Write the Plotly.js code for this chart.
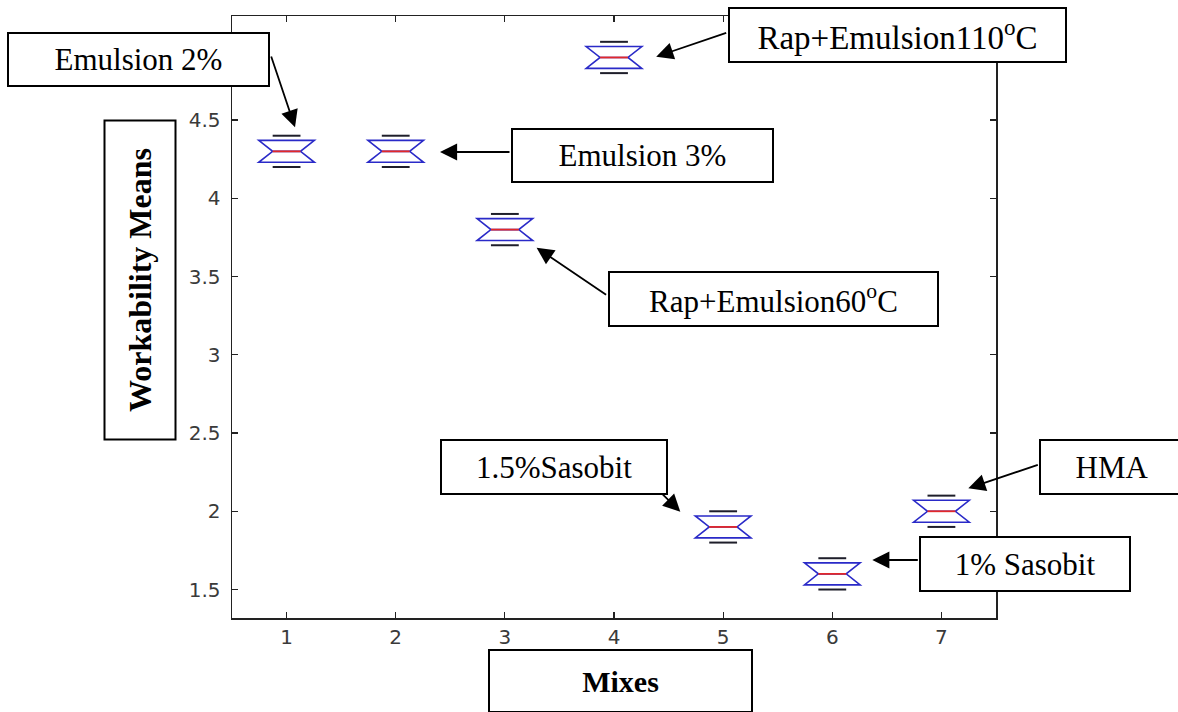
<!DOCTYPE html>
<html>
<head>
<meta charset="utf-8">
<script src="https://cdn.plot.ly/plotly-3.0.1.min.js"></script>
<style>
  html, body { margin: 0; padding: 0; background: #ffffff; }
  #chart { width: 1178px; height: 712px; }
</style>
</head>
<body>
<div id="chart"></div>
<script>
// ---- data ----
const mixes = [1, 2, 3, 4, 5, 6, 7];
const xTickLabels = ['1', '2', '3', '4', '5', '6', '7'];
const yTickValues = [1.5, 2, 2.5, 3, 3.5, 4, 4.5];
const yTickLabels = ['1.5', '2', '2.5', '3', '3.5', '4', '4.5'];
const medians    = [4.3, 4.3, 3.8, 4.9, 1.9, 1.6, 2.0];
const q1Values   = [4.23, 4.23, 3.73, 4.83, 1.83, 1.53, 1.93];
const q3Values   = [4.37, 4.37, 3.87, 4.97, 1.97, 1.67, 2.07];
const notchSpans = [0.07, 0.07, 0.07, 0.07, 0.07, 0.07, 0.07];
const upperCaps  = [4.4, 4.4, 3.9, 5.0, 2.0, 1.7, 2.1];
const lowerCaps  = [4.2, 4.2, 3.7, 4.8, 1.8, 1.5, 1.9];
const mixLabels  = ['Emulsion 2%', 'Emulsion 3%', 'Rap+Emulsion60<sup>o</sup>C',
                    'Rap+Emulsion110<sup>o</sup>C', '1.5%Sasobit', '1% Sasobit', 'HMA'];
const xTitle = 'Mixes';
const yTitle = 'Workability Means';

// ---- styling ----
const BLUE = '#2a2ac8';
const RED = '#e2282a';
const CAP = '#1e1e2a';
const AXIS = '#222222';
const BOX_W = 0.51;
const NOTCH_W = 0.25;
const MED_HALF = BOX_W / 2 * (1 - 2 * NOTCH_W);
const SERIF = 'Liberation Serif, Times New Roman, serif';

// plot area in pixels
const L = 232, R = 996, T = 16, B = 618;
const W = R - L, H = B - T;
const px = x => (x - L) / W;
const py = y => (B - y) / H;

function segs(vals) {
  const xs = [], ys = [];
  mixes.forEach((m, i) => { xs.push(m - MED_HALF, m + MED_HALF, null); ys.push(vals[i], vals[i], null); });
  return {x: xs, y: ys};
}
const medSeg = segs(medians);
const upSeg = segs(upperCaps);
const loSeg = segs(lowerCaps);

const traces = [
  {
    type: 'box', x: mixes, q1: q1Values, median: medians, q3: q3Values,
    lowerfence: q1Values, upperfence: q3Values, notchspan: notchSpans,
    notched: true, notchwidth: NOTCH_W, width: BOX_W, whiskerwidth: 0,
    boxpoints: false, line: {color: BLUE, width: 1.6},
    fillcolor: 'rgba(0,0,0,0)', hoverinfo: 'skip', showlegend: false
  },
  { type: 'scatter', mode: 'lines', x: medSeg.x, y: medSeg.y,
    line: {color: RED, width: 1.8}, hoverinfo: 'skip', showlegend: false },
  { type: 'scatter', mode: 'lines', x: upSeg.x.concat(loSeg.x), y: upSeg.y.concat(loSeg.y),
    line: {color: CAP, width: 2}, hoverinfo: 'skip', showlegend: false }
];

function textBox(text, cx, cy, w, h, opts) {
  opts = opts || {};
  return Object.assign({
    xref: 'paper', yref: 'paper', x: px(cx), y: py(cy),
    xanchor: 'center', yanchor: 'middle', showarrow: false,
    text: text, width: w - 4, height: h - 4,
    font: {family: SERIF, size: opts.size || 31, color: '#000', weight: opts.weight || 'normal'},
    bgcolor: '#ffffff', bordercolor: '#000000', borderwidth: 2, borderpad: 0,
    align: 'center', valign: 'middle'
  }, opts.extra || {});
}
function arrow(tailX, tailY, tipX, tipY) {
  return {
    xref: 'paper', yref: 'paper', x: px(tipX), y: py(tipY),
    axref: 'pixel', ayref: 'pixel', ax: tailX - tipX, ay: tailY - tipY,
    text: '', showarrow: true, arrowhead: 2, arrowsize: 1.9, arrowwidth: 1.8,
    arrowcolor: '#000000'
  };
}

const annotations = [
  arrow(270.7, 55, 295, 127.3),
  arrow(727.7, 32.3, 656.2, 56.7),
  arrow(511, 152, 440, 152),
  arrow(607.6, 295.7, 536.6, 247.7),
  arrow(655.6, 487.3, 680.3, 511.7),
  arrow(1039.3, 464.3, 968.3, 488.3),
  arrow(919.3, 560, 872.3, 560),
  textBox(mixLabels[0], 138.7, 59.8, 263, 55),
  textBox(mixLabels[3], 897.4, 35, 339, 56, {size: 33}),
  textBox(mixLabels[1], 642.5, 155.5, 263, 55),
  textBox(mixLabels[2], 773.3, 299.5, 331, 56),
  textBox(mixLabels[4], 553.5, 467, 228, 56),
  textBox(mixLabels[6], 1112, 467, 146, 56),
  textBox(mixLabels[5], 1025, 564, 212, 56),
  textBox(yTitle, 140, 280.5, 321, 73, {weight: 'bold', size: 32, extra: {textangle: -90}}),
  textBox(xTitle, 620, 681, 265, 64, {weight: 'bold', size: 30})
];
// rotated box: width/height refer to the unrotated text direction
annotations[annotations.length - 2].width = 317;
annotations[annotations.length - 2].height = 69;

const axisCommon = {
  showgrid: false, zeroline: false, showline: true, linecolor: AXIS, linewidth: 1.5,
  ticks: 'inside', ticklen: 6, tickwidth: 1.2, tickcolor: AXIS, mirror: 'ticks',
  tickfont: {family: 'DejaVu Sans, Liberation Sans, sans-serif', size: 20, color: '#3a3a3a'}
};

const layout = {
  width: 1178, height: 712,
  margin: {l: L, r: 1178 - R, t: T, b: 712 - B, pad: 0},
  paper_bgcolor: '#ffffff', plot_bgcolor: '#ffffff',
  showlegend: false,
  xaxis: Object.assign({}, axisCommon, {
    range: [0.5, 7.5], tickmode: 'array', tickvals: mixes, ticktext: xTickLabels,
    ticklabelstandoff: 0
  }),
  yaxis: Object.assign({}, axisCommon, {
    range: [1.318, 5.165], tickmode: 'array', tickvals: yTickValues, ticktext: yTickLabels,
    ticklabelstandoff: 6
  }),
  annotations: annotations
};

Plotly.newPlot('chart', traces, layout, {staticPlot: true, displayModeBar: false});
</script>
</body>
</html>
